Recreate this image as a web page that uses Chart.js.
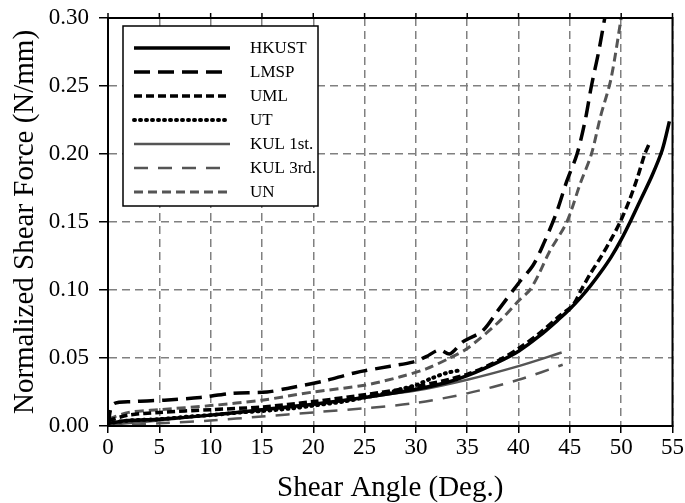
<!DOCTYPE html>
<html><head><meta charset="utf-8">
<script src="https://cdn.jsdelivr.net/npm/chart.js@4/dist/chart.umd.min.js"></script>
<style>html,body{margin:0;padding:0;background:#fff;}#wrap{width:685px;height:503px;}</style>
</head><body><div id="wrap"><canvas id="c" width="685" height="503"></canvas></div>
<script>
const seriesNames = ["HKUST","LMSP","UML","UT","KUL 1st.","KUL 3rd.","UN"];
const xTicks = [0,5,10,15,20,25,30,35,40,45,50,55];
const yTicks = [0,0.05,0.10,0.15,0.20,0.25,0.30];

const hkustAngle = [0,2,5,10,15,20,25,30,33,35,38,40,42,44,45,46,47,48,49,50,51,52,53,54,54.7];
const hkustForce = [0.002,0.004,0.005,0.008,0.012,0.016,0.021,0.027,0.032,0.037,0.047,0.055,0.066,0.079,0.086,0.094,0.103,0.113,0.124,0.137,0.152,0.168,0.184,0.203,0.224];

const lmspAngle = [0,0.5,2.5,5.5,9,12,15.5,17.7,21,24,27.5,29.7,31,32.3,33.3,34.6,36.5,38,40,41.4,42.5,43.7,44.7,45.7,46.5,47.1,47.8,48.4];
const lmspForce = [0,0.016,0.018,0.019,0.021,0.024,0.025,0.028,0.033,0.039,0.044,0.047,0.051,0.056,0.053,0.062,0.070,0.085,0.105,0.118,0.135,0.157,0.180,0.200,0.225,0.250,0.275,0.300];

const umlAngle = [0,2,5,10,15,20,25,30,35,38,40,42,44,45.3,46.1,47,48,49,49.9,50.8,51.6,52.3,52.7];
const umlForce = [0.004,0.008,0.010,0.012,0.014,0.018,0.023,0.029,0.038,0.048,0.057,0.068,0.081,0.089,0.100,0.112,0.124,0.137,0.150,0.166,0.183,0.200,0.207];

const utAngle = [0,2,5,8,10,13,15,18,20,23,25,27,29,30,31.5,33,34.3];
const utForce = [0.002,0.004,0.005,0.007,0.008,0.010,0.011,0.013,0.015,0.018,0.021,0.024,0.028,0.030,0.035,0.039,0.041];

const kul1Angle = [0,5,10,15,20,25,30,35,40,44.2];
const kul1Force = [0.001,0.004,0.008,0.012,0.016,0.021,0.026,0.034,0.044,0.054];

const kul3Angle = [0,5,10,15,20,25,30,35,40,44.3];
const kul3Force = [0.000,0.002,0.004,0.007,0.010,0.013,0.017,0.024,0.034,0.045];

const unAngle = [0,2,5,10,15,20,25,28.4,31,33.3,35,38,40,41.1,42,43,44.7,46,47.1,48,49,50];
const unForce = [0.005,0.010,0.012,0.015,0.019,0.025,0.030,0.036,0.042,0.050,0.057,0.076,0.092,0.100,0.112,0.128,0.150,0.178,0.200,0.228,0.255,0.300];

function pts(xs, ys){ return xs.map((x,i)=>({x:x,y:ys[i]})); }

const styles = [
  {borderColor:'#000', borderWidth:3.5, borderDash:[]},
  {borderColor:'#000', borderWidth:3.5, borderDash:[16,8]},
  {borderColor:'#000', borderWidth:3.5, borderDash:[8,4]},
  {borderColor:'#000', borderWidth:4, borderDash:[1,5], borderCapStyle:'round'},
  {borderColor:'#555', borderWidth:2.5, borderDash:[]},
  {borderColor:'#555', borderWidth:2.5, borderDash:[14,10]},
  {borderColor:'#555', borderWidth:3, borderDash:[9,5]}
];
const dataSets = [
  pts(hkustAngle,hkustForce), pts(lmspAngle,lmspForce), pts(umlAngle,umlForce),
  pts(utAngle,utForce), pts(kul1Angle,kul1Force), pts(kul3Angle,kul3Force), pts(unAngle,unForce)
];

const datasets = seriesNames.map((n,i)=>Object.assign({
  label:n, data:dataSets[i], showLine:true, pointRadius:0, fill:false, tension:0.3,
  borderCapStyle:'butt', borderJoinStyle:'round'
}, styles[i]));

const FONT = "'Liberation Serif', 'Times New Roman', serif";

const framePlugin = {
  id:'frame',
  afterDatasetsDraw(chart){
    const ctx = chart.ctx, a = chart.chartArea;
    ctx.save();
    ctx.strokeStyle='#000'; ctx.lineWidth=2; ctx.setLineDash([]);
    ctx.strokeRect(a.left, a.top, a.right-a.left, a.bottom-a.top);
    ctx.lineWidth=1.5;
    const xs = chart.scales.x;
    xTicks.forEach(v=>{
      const px = xs.getPixelForValue(v);
      ctx.beginPath(); ctx.moveTo(px, a.top); ctx.lineTo(px, a.top-5); ctx.stroke();
    });
    const bx=123, by=26, bw=195, bh=180;
    ctx.fillStyle='#fff'; ctx.fillRect(bx,by,bw,bh);
    ctx.lineWidth=1.5; ctx.strokeRect(bx,by,bw,bh);
    ctx.font = "17px " + FONT; ctx.textBaseline='middle'; ctx.textAlign='left';
    chart.data.datasets.forEach((ds,i)=>{
      const y = 48 + i*24;
      ctx.save();
      ctx.strokeStyle = ds.borderColor; ctx.lineWidth = ds.borderWidth;
      ctx.setLineDash(ds.borderDash||[]); ctx.lineCap = ds.borderCapStyle||'butt';
      ctx.beginPath(); ctx.moveTo(134,y); ctx.lineTo(230,y); ctx.stroke();
      ctx.restore();
      ctx.fillStyle='#000';
      ctx.fillText(ds.label, 250, y+1);
    });
    ctx.restore();
  }
};

new Chart(document.getElementById('c'), {
  type:'scatter',
  data:{datasets:datasets},
  plugins:[framePlugin],
  options:{
    responsive:false, animation:false,
    layout:{padding:{top:18,right:12,left:0,bottom:0}},
    plugins:{legend:{display:false}, tooltip:{enabled:false}},
    scales:{
      x:{type:'linear', min:0, max:55,
        afterBuildTicks(s){ s.ticks = xTicks.map(v=>({value:v})); },
        afterFit(s){ s.height = 77; },
        grid:{color:'#808080', lineWidth:1.5, tickColor:'#000', tickLength:7, tickWidth:1.5},
        border:{dash:[8,5], color:'#000', width:2},
        ticks:{color:'#000', font:{family:FONT, size:23}, padding:1, maxRotation:0},
        title:{display:true, text:'Shear Angle (Deg.)', color:'#000', font:{family:FONT, size:29, lineHeight:1}, padding:{top:0,bottom:0}}
      },
      y:{type:'linear', min:0, max:0.30,
        afterBuildTicks(s){ s.ticks = yTicks.map(v=>({value:v})); },
        afterFit(s){ s.width = 108; s.paddingTop = 4; s.paddingBottom = 4; },
        grid:{color:'#808080', lineWidth:1.5, tickColor:'#000', tickLength:9, tickWidth:1.5},
        border:{dash:[8,5], color:'#000', width:2},
        ticks:{color:'#000', font:{family:FONT, size:23}, padding:10, callback:v=>v.toFixed(2)},
        title:{display:true, text:'Normalized Shear Force (N/mm)', color:'#000', font:{family:FONT, size:29, lineHeight:1}, padding:{top:11,bottom:0}}
      }
    }
  }
});
</script></body></html>
